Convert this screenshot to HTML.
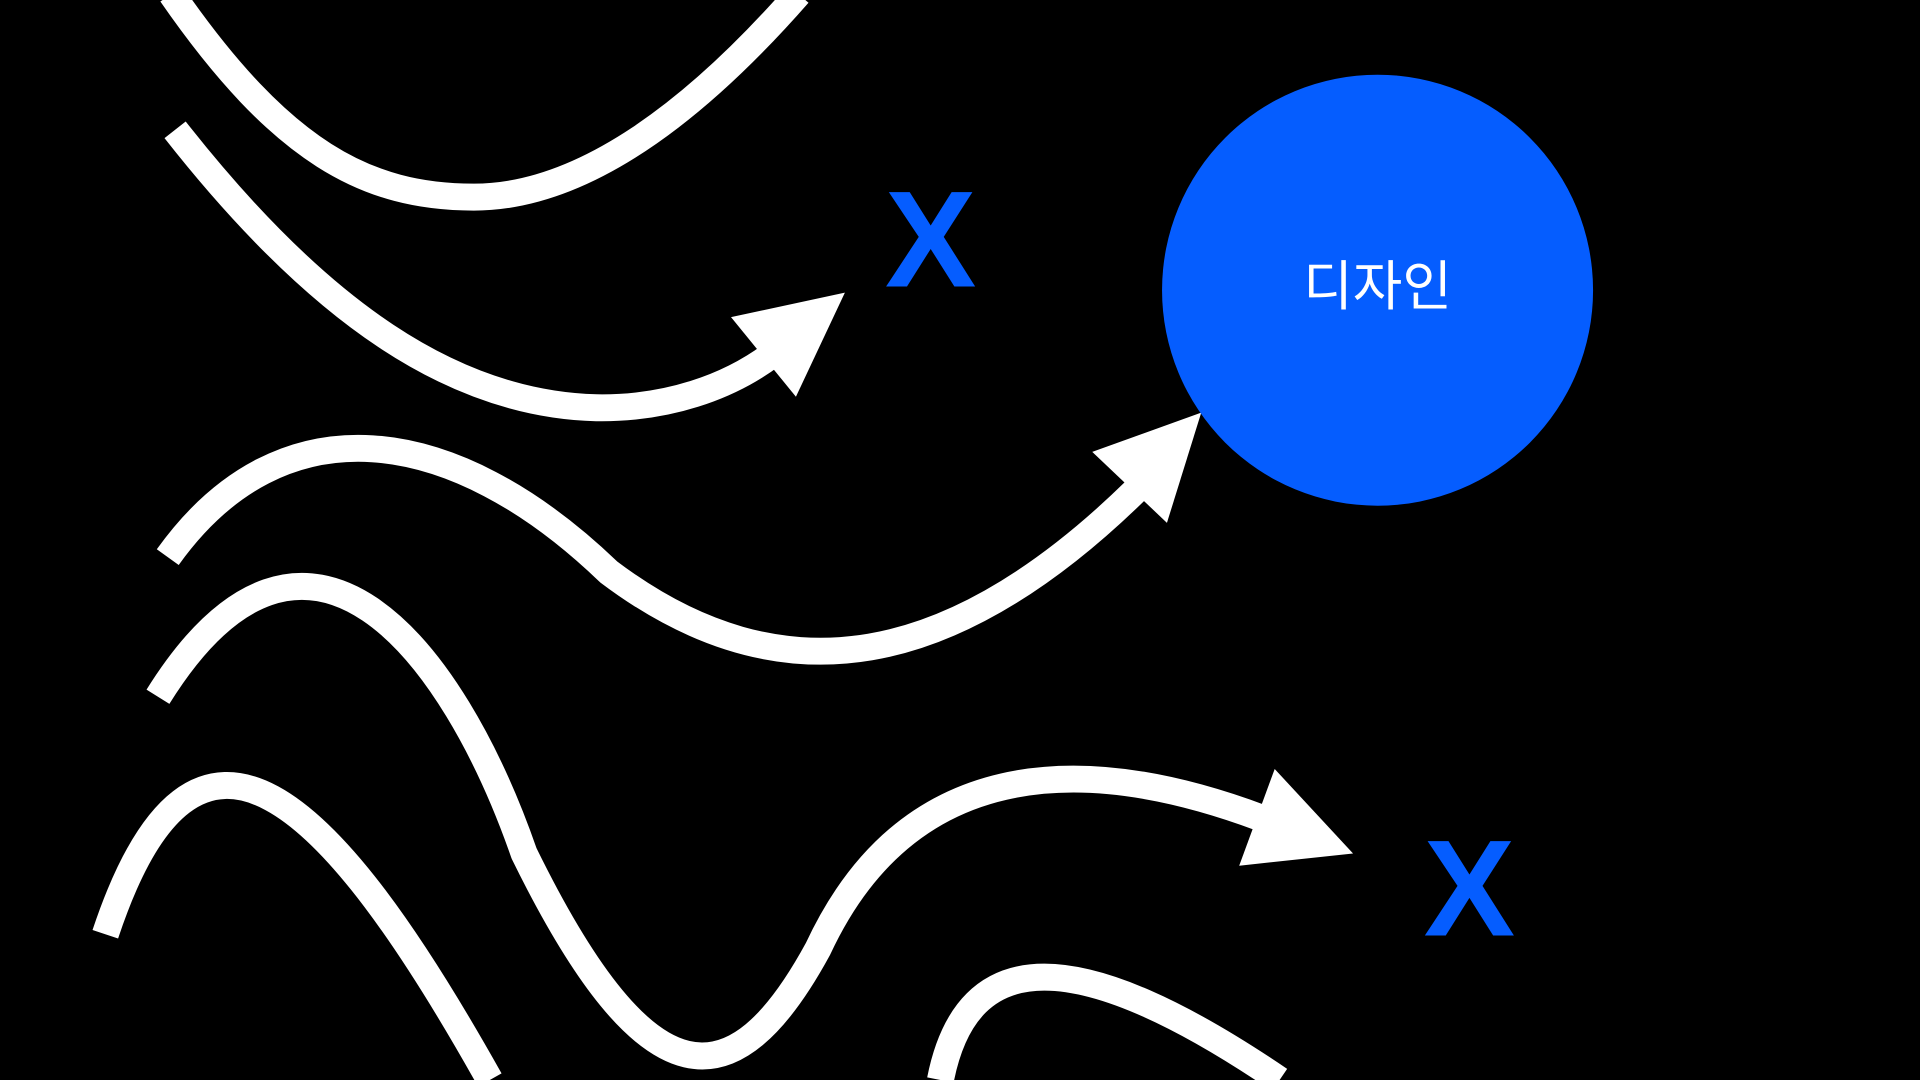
<!DOCTYPE html>
<html><head><meta charset="utf-8"><style>
html,body{margin:0;padding:0;background:#000;width:1920px;height:1080px;overflow:hidden}
svg{display:block}
</style></head><body>
<svg width="1920" height="1080" viewBox="0 0 1568 882" xmlns="http://www.w3.org/2000/svg">
<rect width="1568" height="882" fill="#000"/>
<g fill="none" stroke="#fff" stroke-width="22" stroke-linejoin="round">
<path d="M140 -5 C230 125 300 161 387 161 C470 161 560 100 652 -5"/>
<path d="M143 106 C260 255 370 330 487 333 C545 334 595 316 630 290"/>
<path d="M137 455 C230 325 370 345 497 467 C640 575 780 545 928 400"/>
<path d="M129 569 C250 375 370 530 428 697 C530 905 600 900 668 775 C740 620 880 612 1030 668"/>
<path d="M86 763 C160 540 270 650 400 882"/>
<path d="M768 882 C790 770 880 770 1045 882"/>
</g>
<g fill="#fff">
<polygon points="690,239 597,259 650,324"/>
<polygon points="981,337 892,369 953,427"/>
<polygon points="1105,697 1041,628 1012,707"/>
</g>
<circle cx="1125" cy="237" r="176" fill="#055dff"/>
<text x="1125" y="249" text-anchor="middle" font-family="'Liberation Sans','Noto Sans CJK KR',sans-serif" font-size="44" fill="#fff">디자인</text>
<g font-family="'Liberation Sans',sans-serif" font-weight="bold" font-size="112" fill="#055dff" text-anchor="middle">
<text x="760" y="234">X</text>
<text x="1200" y="764">X</text>
</g>
</svg>
</body></html>
